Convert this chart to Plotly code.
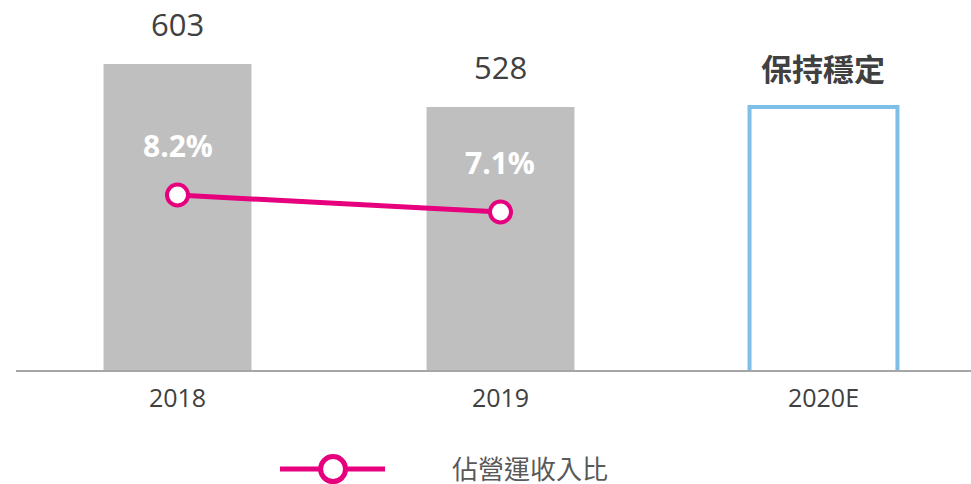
import plotly.graph_objects as go

# ---- data ----
categories = ["2018", "2019", "2020E"]
revenue_values = [603, 528, 528]
revenue_labels = ["603", "528", "保持穩定"]
ratio_categories = ["2018", "2019"]
ratio_values = [8.2, 7.1]
ratio_labels = ["8.2%", "7.1%"]
legend_name = "佔營運收入比"

GRAY_BAR = "#BFBFBF"
BLUE = "#7FBEE6"
MAGENTA = "#E6007E"
TEXT = "#404040"
FONT = "Open Sans, Noto Sans, sans-serif"
CJK = "Noto Sans CJK TC, Noto Sans CJK SC, sans-serif"

fig = go.Figure()

fig.add_trace(go.Bar(
    x=categories,
    y=revenue_values,
    width=0.458,
    marker=dict(
        color=[GRAY_BAR, GRAY_BAR, "rgba(255,255,255,0)"],
        line=dict(color=["rgba(0,0,0,0)", "rgba(0,0,0,0)", BLUE], width=[0, 0, 4]),
    ),
    showlegend=False,
    hoverinfo="skip",
))

fig.add_trace(go.Scatter(
    x=ratio_categories,
    y=ratio_values,
    yaxis="y2",
    mode="lines+markers",
    name=legend_name,
    line=dict(color=MAGENTA, width=5),
    marker=dict(size=21, color="white", line=dict(color=MAGENTA, width=4)),
    showlegend=False,
    hoverinfo="skip",
))

annotations = []
for c, v, t in zip(categories, revenue_values, revenue_labels):
    idx = categories.index(c)
    is_cjk = c == "2020E"
    annotations.append(dict(
        x=idx, y=v, xref="x", yref="y", text=("<b>%s</b>" % t) if is_cjk else t,
        showarrow=False, yshift=40, yanchor="middle", height=34,
        font=dict(family=CJK if is_cjk else FONT, size=31, color=TEXT),
    ))
for c, v, t in zip(ratio_categories, ratio_values, ratio_labels):
    idx = categories.index(c)
    annotations.append(dict(
        x=idx, y=v, xref="x", yref="y2", text="<b>%s</b>" % t,
        showarrow=False, yshift=50, yanchor="middle",
        font=dict(family=FONT, size=30, color="white"),
    ))

# manual legend
leg_y = -0.277
annotations.append(dict(
    x=0.4545, y=leg_y, xref="paper", yref="paper", text=legend_name,
    showarrow=False, xanchor="left", yanchor="middle", height=30,
    font=dict(family=CJK, size=26, color="#595959"),
))
shapes = [
    dict(type="line", xref="paper", yref="paper", x0=0.2764, x1=0.3864, y0=-0.283, y1=-0.283,
         line=dict(color=MAGENTA, width=5)),
    dict(type="circle", xref="paper", yref="paper", xsizemode="pixel", ysizemode="pixel",
         xanchor=0.332, yanchor=-0.283, x0=-12.5, x1=12.5, y0=-12.5, y1=12.5,
         fillcolor="white", line=dict(color=MAGENTA, width=5)),
]

fig.update_layout(
    width=971, height=484,
    margin=dict(l=16, r=0, t=20, b=114),
    plot_bgcolor="white", paper_bgcolor="white",
    bargap=0.5,
    xaxis=dict(
        type="category", range=[-0.5, 2.4567], showline=True, linecolor="#A6A6A6", linewidth=2,
        showgrid=False, zeroline=False, ticks="", ticklabelstandoff=5,
        tickfont=dict(family=FONT, size=25, color=TEXT),
    ),
    yaxis=dict(range=[69, 680], visible=False, showgrid=False, zeroline=False),
    yaxis2=dict(range=[-3.1235, 19.5235], overlaying="y", visible=False, showgrid=False, zeroline=False),
    annotations=annotations,
    shapes=shapes,
    showlegend=False,
)

fig.write_html("out.html", config={"displayModeBar": False},
               post_script="document.body.style.margin='0';")
